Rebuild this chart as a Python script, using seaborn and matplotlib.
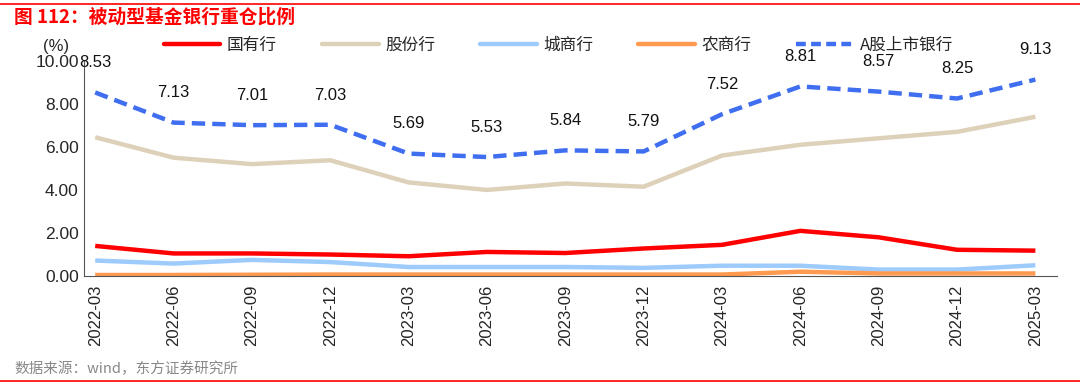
import matplotlib
matplotlib.use("Agg")
import matplotlib.pyplot as plt
import seaborn as sns
import pandas as pd
from matplotlib.lines import Line2D

sns.set_theme(style="white")
plt.rcParams['font.family'] = ['Liberation Sans', 'Noto Sans CJK SC', 'DejaVu Sans']

dates = ["2022-03", "2022-06", "2022-09", "2022-12", "2023-03", "2023-06", "2023-09",
         "2023-12", "2024-03", "2024-06", "2024-09", "2024-12", "2025-03"]
guoyou = [1.40, 1.05, 1.05, 1.00, 0.92, 1.12, 1.07, 1.28, 1.45, 2.10, 1.80, 1.22, 1.18]
gufen = [6.45, 5.50, 5.20, 5.38, 4.35, 4.00, 4.30, 4.15, 5.60, 6.10, 6.40, 6.70, 7.40]
chengshang = [0.72, 0.58, 0.75, 0.65, 0.42, 0.42, 0.42, 0.38, 0.48, 0.48, 0.30, 0.30, 0.50]
nongshang = [0.05, 0.05, 0.06, 0.07, 0.07, 0.07, 0.07, 0.07, 0.07, 0.20, 0.12, 0.12, 0.12]
a_share = [8.53, 7.13, 7.01, 7.03, 5.69, 5.53, 5.84, 5.79, 7.52, 8.81, 8.57, 8.25, 9.13]

series_names = ["国有行", "股份行", "城商行", "农商行", "A股上市银行"]
series_vals = [guoyou, gufen, chengshang, nongshang, a_share]
colors = ["#FF0000", "#DDD1BA", "#9DCBFB", "#FF9A50", "#3F6EF0"]

fig = plt.figure(figsize=(10.8, 3.85), dpi=100)
ax = fig.add_axes([0.078, 0.283, 0.901, 0.559])

idx = list(range(len(dates)))
handles = []
for name, vals, c in zip(series_names, series_vals, colors):
    df = pd.DataFrame({"x": idx, "y": vals})
    dashed = name == "A股上市银行"
    sns.lineplot(data=df, x="x", y="y", ax=ax, color=c, linewidth=3.2,
                 linestyle=(0, (3, 1.6)) if dashed else "-", legend=False,
                 solid_capstyle="butt", dash_capstyle="butt")
    handles.append(Line2D([0], [0], color=c, linewidth=3.2,
                          linestyle=(0, (2.2, 1.2)) if dashed else "-"))

for i, v in enumerate(a_share):
    ax.annotate(f"{v:.2f}", (i, v), xytext=(0, 16), textcoords="offset points",
                ha="center", va="bottom", fontsize=12, color="#111111")

ax.set_xlim(-0.14, 12.28)
ax.set_ylim(0, 10)
ax.set_yticks([0, 2, 4, 6, 8, 10])
ax.set_yticklabels([f"{t:.2f}" for t in [0, 2, 4, 6, 8, 10]], fontsize=12.5)
ax.set_xticks(idx)
ax.set_xticklabels(dates, rotation=90, fontsize=12)
ax.tick_params(axis="x", length=0, pad=6)
ax.set_xticks([i - 0.16 for i in range(1, 13)], minor=True)
ax.tick_params(axis="x", which="minor", direction="in", length=5, color="#666666", width=0.8)
ax.tick_params(axis="y", length=0, pad=4)
ax.set_xlabel("")
ax.set_ylabel("")
for s in ["top", "right"]:
    ax.spines[s].set_visible(False)
for s in ["left", "bottom"]:
    ax.spines[s].set_color("#555555")
    ax.spines[s].set_linewidth(0.8)

fig.text(0.052, 0.88, "(%)", fontsize=12, ha="center", va="center")

fig.legend(handles, series_names, loc="center", bbox_to_anchor=(0.517, 0.883), ncol=5,
           frameon=False, handlelength=3.4, columnspacing=2.7,
           handletextpad=0.4, prop={"family": ["Noto Sans CJK SC", "DejaVu Sans"], "size": 12})

fig.text(0.013, 0.955, "图 112：被动型基金银行重仓比例", color="#FF0000", fontsize=13.5,
         fontweight="bold", ha="left", va="center",
         family=["Noto Sans CJK SC", "DejaVu Sans"])
fig.add_artist(Line2D([0.0, 1.0], [0.99, 0.99], color="#FF0000", linewidth=1.2))
fig.text(0.013, 0.043, "数据来源：wind，东方证券研究所", color="#888888", fontsize=10.5,
         ha="left", va="center", family=["Noto Sans CJK SC", "DejaVu Sans"])
fig.add_artist(Line2D([0.0, 1.0], [0.01, 0.01], color="#FF0000", linewidth=1.2))

fig.savefig("out.png", dpi=100)
